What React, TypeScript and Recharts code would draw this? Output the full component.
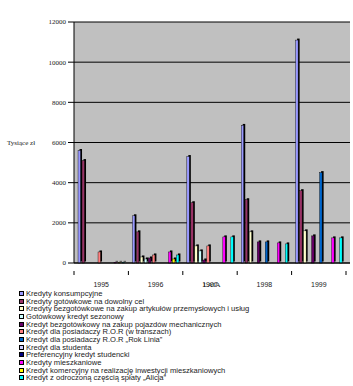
import { BarChart, Bar, XAxis, YAxis, CartesianGrid } from 'recharts';

// Kredyty detaliczne 1995-1999, w tys. zł

const years = ['1995', '1996', '1997', '1998', '1999'];

const konsumpcyjne = [5600, 2350, 5300, 6850, 11100];
const gotowkowe = [5100, 1550, 3000, 3150, 3600];
const bezgotowkowe = [0, 300, 850, 1550, 1600];
const sezonowy = [0, 200, 600, 0, 0];
const pojazdy = [0, 250, 150, 1050, 1350];
const rorTransze = [550, 400, 850, 0, 0];
const rorRokLinia = [0, 0, 0, 1050, 4500];
const student = [0, 0, 0, 0, 0];
const preferencyjny = [0, 0, 0, 0, 0];
const mieszkaniowe = [30, 550, 1300, 1000, 1250];
const komercyjny = [30, 200, 0, 0, 0];
const alicja = [30, 400, 1300, 950, 1250];

const series = [
  { key: 'k1', name: 'Kredyty konsumpcyjne', color: '#9999FF', values: konsumpcyjne },
  { key: 'k2', name: 'Kredyty gotówkowe na dowolny cel', color: '#993366', values: gotowkowe },
  { key: 'k3', name: 'Kredyty bezgotówkowe na zakup artykułów przemysłowych i usług', color: '#FFFFCC', values: bezgotowkowe },
  { key: 'k4', name: 'Gotówkowy kredyt sezonowy', color: '#CCFFFF', values: sezonowy },
  { key: 'k5', name: 'Kredyt bezgotówkowy na zakup pojazdów mechanicznych', color: '#660066', values: pojazdy },
  { key: 'k6', name: 'Kredyt dla posiadaczy R.O.R (w transzach)', color: '#FF8080', values: rorTransze },
  { key: 'k7', name: 'Kredyt dla posiadaczy R.O.R „Rok Linia”', color: '#0066CC', values: rorRokLinia },
  { key: 'k8', name: 'Kredyt dla studenta', color: '#CCCCFF', values: student },
  { key: 'k9', name: 'Preferencyjny kredyt studencki', color: '#000080', values: preferencyjny },
  { key: 'k10', name: 'Kredyty mieszkaniowe', color: '#FF00FF', values: mieszkaniowe },
  { key: 'k11', name: 'Kredyt komercyjny na realizację inwestycji mieszkaniowych', color: '#FFFF00', values: komercyjny },
  { key: 'k12', name: 'Kredyt z odroczoną częścią spłaty „Alicja”', color: '#00FFFF', values: alicja },
];

const data = years.map((year, i) => {
  const row: Record<string, string | number> = { year };
  series.forEach((s) => {
    row[s.key] = s.values[i];
  });
  return row;
});

const W = 353;
const H = 386;
const FONT = '"Liberation Sans", Arial, sans-serif';
const MARGIN = { top: 22, right: 3, left: 0, bottom: 98 };
const PLOT_LEFT = 74;
const X_AXIS_H = 25;
const BAND_RIGHT = 346;
const DEPTH = 1.5;

// column with a black side and top, like the old spreadsheet 3D columns
function Column3D(props: any) {
  const { x, y, width, height, fill } = props;
  if (typeof x !== 'number' || typeof y !== 'number') return null;
  const w = Math.max((width || 0) - DEPTH, 1);
  const h = Math.max(height || 0, 0);
  return (
    <g>
      <rect x={x + DEPTH} y={y - DEPTH} width={w} height={h} fill="#000" />
      <rect x={x} y={y} width={w} height={h} fill={fill} stroke="#000" strokeWidth={0.4} />
    </g>
  );
}

function YearTick(props: any) {
  const { x, y, payload, index } = props;
  const half = (BAND_RIGHT - PLOT_LEFT) / years.length / 2;
  return (
    <g>
      <line x1={x - half} y1={y} x2={x - half} y2={y + 4} stroke="#000" />
      {index === years.length - 1 && (
        <line x1={x + half} y1={y} x2={x + half} y2={y + 4} stroke="#000" />
      )}
      <text x={x} y={y + 16} textAnchor="middle" fontSize={7} fill="#222" fontFamily={FONT}>
        {payload.value}
      </text>
    </g>
  );
}

function LegendList() {
  return (
    <div
      style={{
        position: 'absolute',
        top: 289.5,
        left: 19,
        fontFamily: FONT,
        fontSize: 7.6,
        color: '#222',
      }}
    >
      {series.map((s) => (
        <div key={s.key} style={{ display: 'flex', alignItems: 'center', height: 7.7, whiteSpace: 'nowrap' }}>
          <span
            style={{
              display: 'inline-block',
              width: 3,
              height: 3,
              background: s.color,
              border: '1px solid #000',
              marginRight: 2,
            }}
          />
          <span>{s.name}</span>
        </div>
      ))}
    </div>
  );
}

export default function App() {
  return (
    <div style={{ position: 'absolute', left: 0, top: 0, width: W, height: H }}>
      <BarChart
        width={W}
        height={H}
        data={data}
        margin={MARGIN}
        barCategoryGap="7.4%"
        barGap={0}
      >
        <CartesianGrid vertical={false} stroke="#000" fill="#C0C0C0" />
        <XAxis
          dataKey="year"
          height={X_AXIS_H}
          padding={{ left: 0, right: 4 }}
          axisLine={{ stroke: '#000' }}
          tickLine={false}
          interval={0}
          tick={<YearTick />}
          label={{ value: 'LATA', position: 'insideBottom', offset: 1, fontSize: 7, fill: '#222' }}
        />
        <YAxis
          width={PLOT_LEFT}
          domain={[0, 12000]}
          tickCount={7}
          axisLine={{ stroke: '#000' }}
          tickLine={{ stroke: '#000' }}
          tick={{ fontSize: 7, fill: '#222' }}
          label={{ value: 'Tysiące zł', position: 'insideLeft', offset: 7, fontSize: 7, fill: '#222' }}
        />
        {series.map((s) => (
          <Bar
            key={s.key}
            dataKey={s.key}
            fill={s.color}
            shape={<Column3D />}
            isAnimationActive={false}
          />
        ))}
      </BarChart>
      <LegendList />
    </div>
  );
}
